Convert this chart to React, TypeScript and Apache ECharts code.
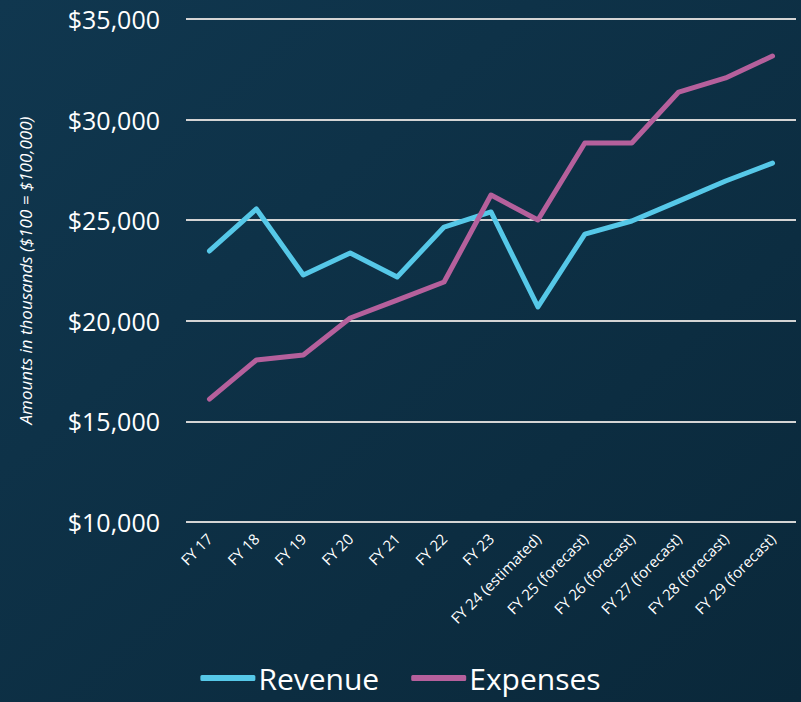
import React, { useEffect, useRef } from "react";
import * as echarts from "echarts";

const categories = [
  "FY 17", "FY 18", "FY 19", "FY 20", "FY 21", "FY 22", "FY 23",
  "FY 24 (estimated)", "FY 25 (forecast)", "FY 26 (forecast)",
  "FY 27 (forecast)", "FY 28 (forecast)", "FY 29 (forecast)",
];
const revenue = [23470, 25560, 22280, 23370, 22180, 24660, 25410, 20690, 24310, 24960, 25950, 26950, 27840];
const expenses = [16110, 18050, 18300, 20140, 21030, 21930, 26250, 25010, 28840, 28840, 31370, 32070, 33160];
const yAxisTitle = "Amounts in thousands ($100 = $100,000)";

const FONT = "'Open Sans', sans-serif";

export default function App() {
  const ref = useRef<HTMLDivElement>(null);
  useEffect(() => {
    if (!ref.current) return;
    const chart = echarts.init(ref.current, null, { renderer: "svg" });
    chart.setOption({
      animation: false,
      backgroundColor: new echarts.graphic.LinearGradient(0, 0, 1, 1, [
        { offset: 0, color: "#10374f" },
        { offset: 1, color: "#0a283a" },
      ]),
      grid: { left: 186, right: 5, top: 19, bottom: 180 },
      legend: {
        bottom: 2,
        left: "center",
        itemWidth: 55,
        itemHeight: 6,
        itemGap: 32,
        icon: "roundRect",
        textStyle: { color: "#ffffff", fontSize: 30, lineHeight: 34, fontFamily: FONT, padding: [0, 0, 0, -2] },
        data: ["Revenue", "Expenses"],
      },
      xAxis: {
        type: "category",
        data: categories,
        boundaryGap: true,
        axisLine: { show: false },
        axisTick: { show: false },
        axisLabel: {
          rotate: 45,
          color: "#ffffff",
          fontSize: 15,
          fontFamily: FONT,
          interval: 0,
          margin: 14,
        },
      },
      yAxis: {
        type: "value",
        min: 10000,
        max: 35000,
        interval: 5000,
        name: yAxisTitle,
        nameLocation: "middle",
        nameGap: 152,
        nameTextStyle: { color: "#ffffff", fontSize: 17, fontStyle: "italic", fontFamily: FONT },
        axisLine: { show: false },
        axisTick: { show: false },
        axisLabel: {
          color: "#ffffff",
          fontSize: 25,
          fontFamily: FONT,
          margin: 26,
          formatter: (v: number) => "$" + v.toLocaleString("en-US"),
        },
        splitLine: { lineStyle: { color: "#d4d4d4", width: 2 } },
      },
      series: [
        {
          name: "Revenue",
          type: "line",
          data: revenue,
          symbol: "none",
          lineStyle: { color: "#56c8e8", width: 5, cap: "round", join: "round" },
          itemStyle: { color: "#56c8e8" },
        },
        {
          name: "Expenses",
          type: "line",
          data: expenses,
          symbol: "none",
          lineStyle: { color: "#b5609c", width: 5, cap: "round", join: "round" },
          itemStyle: { color: "#b5609c" },
        },
      ],
    });
    return () => chart.dispose();
  }, []);
  return (
    <div
      ref={ref}
      style={{ position: "fixed", left: 0, top: 0, width: 801, height: 702 }}
    />
  );
}
